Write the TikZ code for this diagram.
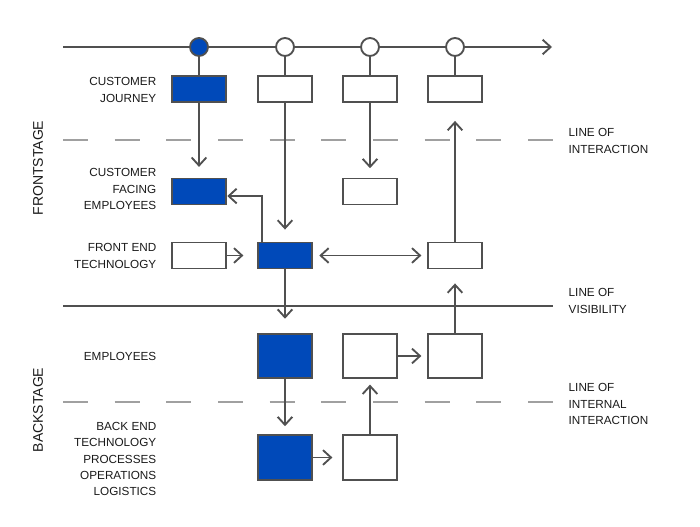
\documentclass[tikz,border=0pt]{standalone}
\usepackage{fontspec}
\setmainfont{Liberation Sans}
\usetikzlibrary{arrows.meta}
\usepackage{xcolor}
\definecolor{bpblue}{HTML}{0049B9}
\definecolor{bpline}{HTML}{505050}
\definecolor{bpdash}{HTML}{A0A0A0}
\definecolor{bptext}{HTML}{1A1A1A}

\begin{document}
\begin{tikzpicture}[x=0.75pt,y=-0.75pt,
    conn/.style={draw=bpline, line width=1.4pt},
    arr/.style={conn, -{Straight Barb[length=6pt,width=11pt]}},
    darr/.style={conn, {Straight Barb[length=6pt,width=11pt]}-{Straight Barb[length=6pt,width=11pt]}},
    touch/.style={circle, draw=bpline, fill=white, line width=1.4pt, minimum size=13.5pt, inner sep=0pt},
    wbox/.style={rectangle, draw=bpline, fill=white, line width=1.4pt, minimum width=40pt, minimum height=19.5pt, inner sep=0pt},
    bbox/.style={wbox, fill=bpblue},
    wsq/.style={wbox, minimum height=33.5pt},
    bsq/.style={wsq, fill=bpblue},
    rowlbl/.style={anchor=east, align=right, text=bptext, font={\fontsize{8.8}{12.2}\selectfont}},
    linelbl/.style={anchor=west, align=left, text=bptext, font={\fontsize{8.8}{12.2}\selectfont}},
    stagelbl/.style={rotate=90, text=bptext, font={\fontsize{10.5}{12}\selectfont}}]
    \useasboundingbox (0,0) rectangle (700,527);

    % Timeline with touchpoints
    \coordinate (tl start) at (63,47);
    \coordinate (tl end) at (552,47);
    \draw[arr] (tl start) -- (tl end);
    \node[touch, fill=bpblue] (t1) at (199,47) {};
    \node[touch] (t2) at (285,47) {};
    \node[touch] (t3) at (370,47) {};
    \node[touch] (t4) at (455,47) {};

    % Separating lines
    \coordinate (li start) at (63,140);
    \coordinate (li end) at (553,140);
    \coordinate (lv start) at (63,306);
    \coordinate (lv end) at (553,306);
    \coordinate (lii start) at (63,402);
    \coordinate (lii end) at (553,402);
    \draw[bpdash, line width=1.1pt, dash pattern=on 18.75pt off 20pt] (li start) -- (li end);
    \draw[bpline, line width=1.4pt] (lv start) -- (lv end);
    \draw[bpdash, line width=1.1pt, dash pattern=on 18.75pt off 20pt] (lii start) -- (lii end);

    % Boxes
    \node[bbox] (cj1) at (199,89) {};
    \node[wbox] (cj2) at (285,89) {};
    \node[wbox] (cj3) at (370,89) {};
    \node[wbox] (cj4) at (455,89) {};
    \node[bbox] (cfe1) at (199,191.5) {};
    \node[wbox] (cfe3) at (370,191.5) {};
    \node[wbox] (fe1) at (199,255.5) {};
    \node[bbox] (fe2) at (285,255.5) {};
    \node[wbox] (fe4) at (455,255.5) {};
    \node[bsq] (emp2) at (285,356) {};
    \node[wsq] (emp3) at (370,356) {};
    \node[wsq] (emp4) at (455,356) {};
    \node[bsq] (be2) at (285,457.5) {};
    \node[wsq] (be3) at (370,457.5) {};

    % Connectors
    \foreach \i in {1,2,3,4}
        \draw[conn] (t\i) -- (cj\i);
    \draw[arr, shorten >=8pt] (cj1) -- (cfe1);
    \draw[arr, shorten >=9pt] (cj2) -- (fe2);
    \draw[arr, shorten >=7pt] (cj3) -- (cfe3);
    \draw[arr, shorten >=13.5pt] (fe4) -- (cj4);
    \draw[arr, shorten >=0.5pt] ([xshift=3.75pt]fe2.north west) |- ([yshift=-3.4pt]cfe1.east);
    \draw[arr, shorten >=10.5pt] (fe1) -- (fe2);
    \draw[darr, shorten <=5pt, shorten >=4.5pt] (fe2) -- (fe4);
    \draw[arr, shorten >=10.5pt] (fe2) -- (emp2);
    \draw[arr, shorten >=6pt] (emp2) -- (be2);
    \draw[arr, shorten >=4.5pt] (emp3) -- (emp4);
    \draw[arr, shorten >=10.5pt] (emp4) -- (fe4);
    \draw[arr, shorten >=7.5pt] (be2) -- (be3);
    \draw[arr, shorten >=4pt] (be3) -- (emp3);

    % Row labels
    \node[rowlbl] (l cj) at (161,90) {CUSTOMER\\JOURNEY};
    \node[rowlbl] (l cfe) at (161,189) {CUSTOMER\\FACING\\EMPLOYEES};
    \node[rowlbl] (l fe) at (161,256) {FRONT END\\TECHNOLOGY};
    \node[rowlbl] (l emp) at (161,356) {EMPLOYEES};
    \node[rowlbl] (l be) at (161,459) {BACK END\\TECHNOLOGY\\PROCESSES\\OPERATIONS\\LOGISTICS};

    % Line labels
    \node[linelbl] (l li) at (564,141) {LINE OF\\INTERACTION};
    \node[linelbl] (l lv) at (564,301) {LINE OF\\VISIBILITY};
    \node[linelbl] (l lii) at (564,404) {LINE OF\\INTERNAL\\INTERACTION};

    % Stages
    \node[stagelbl] (front) at (38,168) {FRONTSTAGE};
    \node[stagelbl] (back) at (38,410) {BACKSTAGE};
\end{tikzpicture}
\end{document}
